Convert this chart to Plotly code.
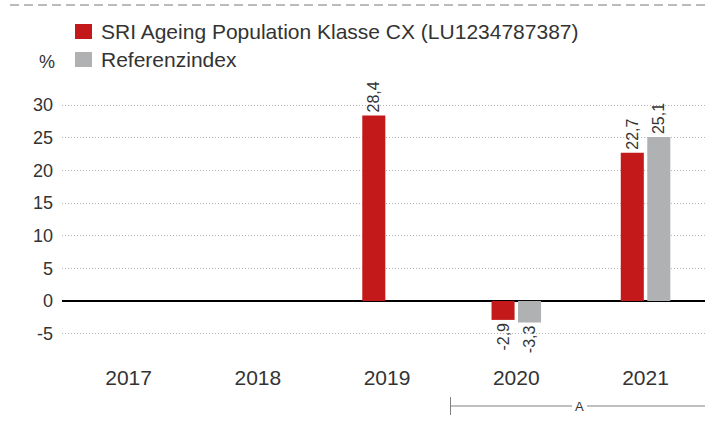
import plotly.graph_objects as go

years = ["2017", "2018", "2019", "2020", "2021"]
fund_values = [None, None, 28.4, -2.9, 22.7]
index_values = [None, None, None, -3.3, 25.1]
fund_name = "SRI Ageing Population Klasse CX (LU1234787387)"
index_name = "Referenzindex"
y_ticks = [-5, 0, 5, 10, 15, 20, 25, 30]
y_tick_labels = ["-5", "0", "5", "10", "15", "20", "25", "30"]

RED = "#C4191A"
GRAY = "#B0B1B3"
TXT = "#333333"
FONT = "Liberation Sans, Arial, Helvetica, sans-serif"

W, H = 705, 423
ML, MR, MT, MB = 62, 0, 92, 60
PW, PH = W - ML - MR, H - MT - MB

def fmt(v):
    return "" if v is None else f"{v:.1f}".replace(".", ",")

fig = go.Figure()
for vals, name, col in [(fund_values, fund_name, RED), (index_values, index_name, GRAY)]:
    fig.add_bar(x=years, y=vals, name=name, marker_color=col, marker_line_width=0,
                text=[fmt(v) for v in vals], textposition="outside",
                textangle=-90, constraintext="none",
                textfont=dict(size=16, color=TXT, family=FONT),
                cliponaxis=False, showlegend=False)

fig.update_layout(
    width=W, height=H,
    margin=dict(l=ML, r=MR, t=MT, b=MB),
    paper_bgcolor="white", plot_bgcolor="white",
    barmode="group", bargap=0.59, bargroupgap=0.13,
    font=dict(family=FONT, size=18, color=TXT),
    xaxis=dict(range=[-0.515, 4.46], showgrid=False, showline=False, ticks="",
               tickfont=dict(size=21, color=TXT)),
    yaxis=dict(range=[-9.5, 32], tickvals=y_ticks, ticktext=y_tick_labels, showgrid=True,
               gridcolor="#B5B5B5", griddash="1px,2px", gridwidth=1,
               zeroline=True, zerolinecolor="black", zerolinewidth=1.5,
               ticks="", tickfont=dict(size=18, color=TXT), ticklabelstandoff=8),
)

def py(pix):
    return (H - MB - pix) / PH
def px(pix):
    return (pix - ML) / PW

# top dashed line
fig.add_shape(type="line", xref="paper", yref="paper", x0=px(10), x1=px(W), y0=py(5), y1=py(5),
              line=dict(color="#BBBBBB", width=2, dash="9px,5px"))

# manual legend
legend_items = [(fund_name, RED, 31.5), (index_name, GRAY, 59.5)]
for label, col, yc in legend_items:
    fig.add_shape(type="rect", xref="paper", yref="paper",
                  x0=px(75), x1=px(92), y0=py(yc + 7.5), y1=py(yc - 7.5),
                  fillcolor=col, line_width=0)
    fig.add_annotation(xref="paper", yref="paper", x=px(99), y=py(yc), text=label,
                       showarrow=False, xanchor="left", yanchor="middle",
                       font=dict(size=21, color=TXT, family=FONT))
fig.add_annotation(xref="paper", yref="paper", x=px(46.5), y=py(61.5), text="%",
                   showarrow=False, xanchor="center", yanchor="middle",
                   font=dict(size=18, color=TXT, family=FONT))

# bottom "A" bracket
ya = py(406)
LC = "#808080"
fig.add_shape(type="line", xref="paper", yref="paper", x0=px(450.5), x1=px(450.5), y0=py(415), y1=py(397),
              line=dict(color=LC, width=1))
fig.add_shape(type="line", xref="paper", yref="paper", x0=px(450.5), x1=px(572), y0=ya, y1=ya,
              line=dict(color=LC, width=1))
fig.add_shape(type="line", xref="paper", yref="paper", x0=px(587), x1=1, y0=ya, y1=ya,
              line=dict(color=LC, width=1))
fig.add_annotation(xref="paper", yref="paper", x=px(579.5), y=ya, text="A",
                   showarrow=False, xanchor="center", yanchor="middle",
                   font=dict(size=13, color=TXT, family=FONT))

fig.write_html("out.html", config={"displayModeBar": False},
               post_script="document.body.style.margin='0';")
